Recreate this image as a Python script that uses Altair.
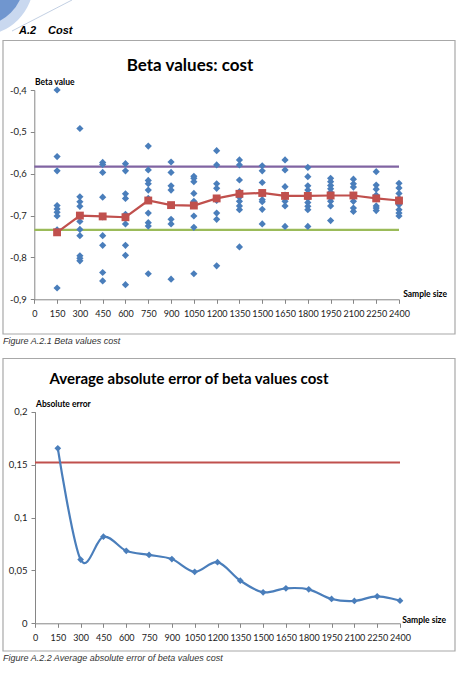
import altair as alt
import pandas as pd

# ---------------- data ----------------
sample_sizes = [150, 300, 450, 600, 750, 900, 1050, 1200, 1350, 1500, 1650, 1800, 1950, 2100, 2250, 2400]

beta_150 = [-0.400, -0.559, -0.593, -0.676, -0.684, -0.692, -0.701, -0.734, -0.873]
beta_300 = [-0.492, -0.655, -0.667, -0.678, -0.700, -0.714, -0.733, -0.748, -0.796, -0.802, -0.808]
beta_450 = [-0.573, -0.578, -0.597, -0.656, -0.703, -0.748, -0.771, -0.836, -0.856]
beta_600 = [-0.576, -0.593, -0.648, -0.659, -0.697, -0.720, -0.771, -0.795, -0.865]
beta_750 = [-0.534, -0.591, -0.616, -0.624, -0.639, -0.659, -0.694, -0.717, -0.725, -0.839]
beta_900 = [-0.572, -0.597, -0.629, -0.639, -0.709, -0.720, -0.852]
beta_1050 = [-0.606, -0.611, -0.619, -0.647, -0.666, -0.701, -0.728, -0.839]
beta_1200 = [-0.545, -0.579, -0.624, -0.635, -0.664, -0.694, -0.709, -0.820]
beta_1350 = [-0.567, -0.579, -0.615, -0.643, -0.656, -0.666, -0.677, -0.686, -0.775]
beta_1500 = [-0.581, -0.593, -0.621, -0.647, -0.662, -0.667, -0.685, -0.720]
beta_1650 = [-0.567, -0.591, -0.631, -0.651, -0.666, -0.677, -0.726]
beta_1800 = [-0.585, -0.607, -0.629, -0.639, -0.649, -0.659, -0.669, -0.678, -0.686, -0.726]
beta_1950 = [-0.611, -0.619, -0.628, -0.636, -0.644, -0.651, -0.658, -0.666, -0.677, -0.712]
beta_2100 = [-0.613, -0.624, -0.632, -0.651, -0.666, -0.682, -0.690]
beta_2250 = [-0.595, -0.627, -0.637, -0.651, -0.677, -0.682, -0.688]
beta_2400 = [-0.623, -0.634, -0.647, -0.659, -0.666, -0.674, -0.686, -0.694, -0.701]

beta_lists = [beta_150, beta_300, beta_450, beta_600, beta_750, beta_900, beta_1050, beta_1200,
              beta_1350, beta_1500, beta_1650, beta_1800, beta_1950, beta_2100, beta_2250, beta_2400]

mean_beta = [-0.740, -0.700, -0.702, -0.704, -0.664, -0.675, -0.676, -0.659,
             -0.648, -0.646, -0.653, -0.653, -0.652, -0.652, -0.659, -0.664]

upper_beta = -0.583
lower_beta = -0.734

avg_abs_error = [0.1654, 0.0602, 0.0819, 0.0685, 0.0646, 0.0607, 0.0487, 0.0578,
                 0.0403, 0.0293, 0.0331, 0.0321, 0.0230, 0.0211, 0.0255, 0.0214]
error_reference = 0.152

x_ticks = [0] + sample_sizes
y1_ticks = [-0.9, -0.8, -0.7, -0.6, -0.5, -0.4]
y2_ticks = [0, 0.05, 0.1, 0.15, 0.2]

# ---------------- tables ----------------
scatter_df = pd.DataFrame(
    [{"n": n, "beta": b} for n, lst in zip(sample_sizes, beta_lists) for b in lst]
)
mean_df = pd.DataFrame({"n": sample_sizes, "beta": mean_beta})
hline_df = pd.DataFrame({"x0": [0, 0], "x1": [2400, 2400], "beta": [upper_beta, lower_beta],
                         "kind": ["upper", "lower"]})
err_df = pd.DataFrame({"n": sample_sizes, "err": avg_abs_error})
err_ref_df = pd.DataFrame({"x0": [0], "x1": [2400], "err": [error_reference]})
one = pd.DataFrame({"k": [0]})

H = 686
FONT = "Lato"
LABEL_EXPR = "replace(toString(datum.value), '.', ',')"


def xaxis(y_px):
    return alt.Axis(orient="bottom", offset=y_px - H, values=x_ticks, title=None, grid=False,
                    tickSize=4, labelPadding=6, labelFont=FONT, labelFontSize=9,
                    labelColor="#222222", domainColor="#868686", tickColor="#868686",
                    labelFlush=False, labelOverlap=False, labelExpr=LABEL_EXPR)


def yaxis(x_px, ticks):
    return alt.Axis(orient="left", offset=-x_px, values=ticks, title=None, grid=False,
                    tickSize=4, labelPadding=4, labelFont=FONT, labelFontSize=9.5,
                    labelColor="#222222", domainColor="#868686", tickColor="#868686",
                    labelFlush=False, labelOverlap=False, labelExpr=LABEL_EXPR)


# ---------------- chart 1 ----------------
X1 = alt.Scale(domain=[0, 2400], range=[34.3, 399], nice=False, zero=False)
Y1 = alt.Scale(domain=[-0.9, -0.4], range=[299.3, 90], nice=False, zero=False)
AX1 = xaxis(299.3)
AY1 = yaxis(34.3, y1_ticks)

h1 = alt.Chart(hline_df).mark_rule(strokeWidth=2.2).encode(
    x=alt.X("x0:Q", scale=X1, axis=AX1),
    x2="x1:Q",
    y=alt.Y("beta:Q", scale=Y1, axis=AY1),
    color=alt.Color("kind:N", scale=alt.Scale(domain=["upper", "lower"], range=["#8064A2", "#9BBB59"]),
                    legend=None),
)
pts1 = alt.Chart(scatter_df).mark_point(shape="diamond", filled=True, size=52, opacity=1,
                                         color="#4A7EBB").encode(
    x=alt.X("n:Q", scale=X1, axis=AX1),
    y=alt.Y("beta:Q", scale=Y1, axis=AY1),
)
mline = alt.Chart(mean_df).mark_line(color="#C0504D", strokeWidth=2.2).encode(
    x=alt.X("n:Q", scale=X1, axis=AX1),
    y=alt.Y("beta:Q", scale=Y1, axis=AY1),
)
mpts = alt.Chart(mean_df).mark_point(shape="square", filled=True, size=62, opacity=1,
                                      color="#C0504D").encode(
    x=alt.X("n:Q", scale=X1, axis=AX1),
    y=alt.Y("beta:Q", scale=Y1, axis=AY1),
)
chart1 = alt.layer(h1, pts1, mline, mpts)

# ---------------- chart 2 ----------------
X2 = alt.Scale(domain=[0, 2400], range=[35, 400], nice=False, zero=False)
Y2 = alt.Scale(domain=[0, 0.2], range=[623.3, 411.7], nice=False, zero=False)
AX2 = xaxis(623.3)
AY2 = yaxis(35, y2_ticks)

r2 = alt.Chart(err_ref_df).mark_rule(color="#C0504D", strokeWidth=2.2).encode(
    x=alt.X("x0:Q", scale=X2, axis=AX2),
    x2="x1:Q",
    y=alt.Y("err:Q", scale=Y2, axis=AY2),
)
l2 = alt.Chart(err_df).mark_line(color="#4A7EBB", strokeWidth=2.2, interpolate="cardinal").encode(
    x=alt.X("n:Q", scale=X2, axis=AX2),
    y=alt.Y("err:Q", scale=Y2, axis=AY2),
)
p2 = alt.Chart(err_df).mark_point(shape="diamond", filled=True, size=45, opacity=1,
                                   color="#4A7EBB").encode(
    x=alt.X("n:Q", scale=X2, axis=AX2),
    y=alt.Y("err:Q", scale=Y2, axis=AY2),
)
chart2 = alt.layer(r2, l2, p2)


# ---------------- decorations & text ----------------
def txt(text, x, y, size, weight="normal", style="normal", font=FONT, align="left", color="#000000"):
    return alt.Chart(one).mark_text(fontSize=size, fontWeight=weight, fontStyle=style, font=font,
                                    align=align, baseline="middle", color=color).encode(
        x=alt.value(x), y=alt.value(y), text=alt.value(text))


def frame(y0, y1):
    return alt.Chart(one).mark_rect(fill="#ffffff", fillOpacity=0, stroke="#a8a8a8",
                                    strokeWidth=1.2).encode(
        x=alt.value(3), x2=alt.value(455), y=alt.value(y0), y2=alt.value(y1))


deco_outer = alt.Chart(one).mark_point(shape="circle", filled=True, size=11500, opacity=1,
                                       color="#c9d8ef").encode(x=alt.value(-20), y=alt.value(-18))
deco_inner = alt.Chart(one).mark_point(shape="circle", filled=True, size=8600, opacity=1,
                                       color="#7096cf").encode(x=alt.value(-22), y=alt.value(-20))
deco_line = alt.Chart(one).mark_rule(color="#b4c4dc", strokeWidth=0.8).encode(
    x=alt.value(12), y=alt.value(31), x2=alt.value(72), y2=alt.value(0))

texts = [
    txt("A.2", 19, 31, 11, "bold", "italic", "Liberation Sans"),
    txt("Cost", 48, 31, 11, "bold", "italic", "Liberation Sans"),
    txt("Beta values: cost", 190, 66, 17, "bold", align="center"),
    txt("Beta value", 35, 82, 8.5, "bold"),
    txt("Sample size", 447, 294, 8.5, "bold", align="right"),
    txt("Figure A.2.1 Beta values cost", 3, 341, 9, "normal", "italic", "Liberation Sans",
        color="#333333"),
    txt("Average absolute error of beta values cost", 189, 379, 15, "bold", align="center"),
    txt("Absolute error", 36, 404, 8.5, "bold"),
    txt("Sample size", 446, 620, 8.5, "bold", align="right"),
    txt("Figure A.2.2 Average absolute error of beta values cost", 3, 658, 9, "normal", "italic",
        "Liberation Sans", color="#333333"),
]

chart = alt.layer(
    deco_outer, deco_inner, deco_line,
    frame(40.5, 334), frame(358.5, 651),
    chart1, chart2, *texts,
).resolve_scale(x="independent", y="independent", color="independent").resolve_axis(
    x="independent", y="independent"
).properties(
    width=456, height=686, padding=0, autosize=alt.AutoSizeParams(type="none"),
    background="white",
).configure_view(strokeWidth=0)

chart.save("out.html", embed_options={"renderer": "svg", "actions": False})
